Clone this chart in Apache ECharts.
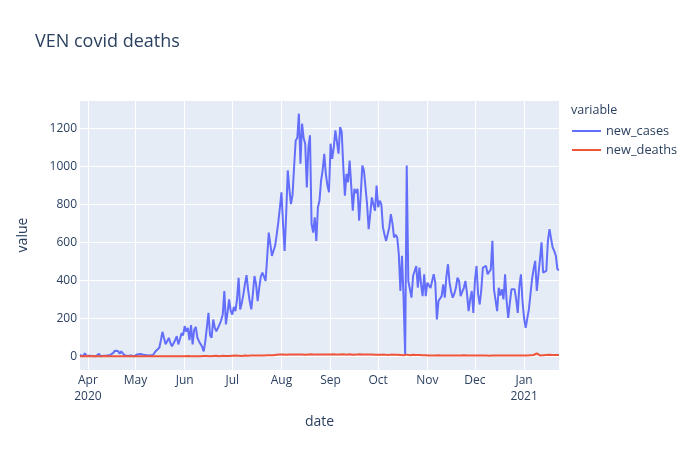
<!DOCTYPE html>
<html>
<head>
<meta charset="utf-8">
<script src="https://cdn.jsdelivr.net/npm/echarts@6/dist/echarts.min.js"></script>
<style>
  html, body { margin: 0; padding: 0; background: #fff; }
  #chart { width: 700px; height: 450px; }
</style>
</head>
<body>
<div id="chart"></div>
<script>
// 일별 데이터 (2020-03-27 ~ 2021-01-23)
const startDate = '2020-03-27';
const monthNames = ['Jan', 'Feb', 'Mar', 'Apr', 'May', 'Jun', 'Jul', 'Aug', 'Sep', 'Oct', 'Nov', 'Dec'];

const casesMar = [7, 12, 0, 16, 4];
const casesApr = [8, 3, 10, 2, 11, 0, 5, 14, 0, 9, 3, 6, 4, 13, 7, 5, 18, 30, 22, 28, 14, 26, 19, 6, 10, 2, 8, 4, 3, 0];
const casesMay = [0, 10, 5, 12, 3, 8, 15, 6, 11, 4, 14, 7, 10, 30, 20, 45, 85, 129, 95, 63, 80, 97, 70, 53, 60, 85, 106, 63, 90, 122, 110];
const casesJun = [159, 130, 150, 85, 165, 63, 140, 155, 98, 80, 65, 50, 26, 79, 85, 229, 110, 98, 194, 150, 132, 150, 168, 190, 220, 344, 168, 230, 300, 240];
const casesJul = [220, 260, 238, 300, 414, 247, 280, 326, 380, 428, 350, 290, 247, 330, 423, 380, 291, 360, 420, 441, 420, 397, 520, 652, 661, 529, 520, 582, 640, 705, 780];
const casesAug = [864, 700, 555, 750, 979, 880, 802, 850, 1000, 1137, 1150, 1278, 1014, 1225, 1150, 1120, 890, 1100, 1164, 697, 652, 732, 608, 785, 820, 926, 980, 1067, 960, 900, 864];
const casesSep = [1120, 1040, 1100, 1190, 1130, 1067, 1208, 1182, 1000, 846, 961, 917, 1031, 900, 767, 882, 860, 882, 714, 850, 1005, 980, 970, 800, 670, 750, 837, 800, 767, 899];
const casesOct = [785, 820, 800, 679, 640, 608, 615, 680, 749, 700, 626, 640, 626, 538, 344, 529, 309, 9, 1005, 397, 390, 309, 423, 420, 476, 361, 467, 380, 317, 432, 317];
const casesNov = [388, 390, 360, 397, 432, 388, 194, 291, 300, 317, 379, 309, 420, 485, 388, 340, 309, 330, 361, 414, 397, 317, 340, 361, 397, 330, 238, 300, 344, 229];
const casesDec = [400, 476, 326, 273, 350, 467, 460, 476, 432, 440, 458, 608, 353, 345, 238, 361, 320, 353, 300, 432, 290, 203, 280, 353, 361, 353, 300, 229, 370, 432, 290];
const casesJan = [200, 150, 200, 247, 256, 406, 460, 503, 344, 430, 511, 600, 441, 445, 450, 608, 670, 620, 573, 555, 530, 458, 455];

const deathsMar = [0, 1, 0, 0, 2];
const deathsApr = [0, 1, 0, 2, 0, 1, 1, 0, 0, 1, 0, 2, 0, 1, 0, 0, 1, 0, 1, 0, 0, 1, 0, 0, 1, 0, 0, 0, 1, 0];
const deathsMay = [-5, 1, 0, 1, 0, 0, 1, 0, 0, 1, 1, 0, 0, 1, 0, 1, 0, 0, 1, 0, 1, 1, 0, 0, 1, 0, 1, 1, 0, 1, 2];
const deathsJun = [1, 1, 2, 0, 1, 2, 1, 1, 0, 2, 1, 1, 2, 1, 2, 1, 1, 2, 2, 1, 3, 2, 1, 2, 3, 2, 2, 3, 2, 3];
const deathsJul = [3, 2, 4, 3, 3, 4, 2, 3, 4, 5, 3, 4, 4, 3, 5, 4, 5, 4, 5, 6, 5, 4, 6, 5, 6, 7, 6, 7, 8, 7, 9];
const deathsAug = [8, 9, 7, 8, 10, 9, 8, 9, 10, 9, 8, 10, 11, 9, 10, 8, 9, 10, 9, 11, 10, 9, 8, 10, 9, 10, 11, 9, 10, 9, 11];
const deathsSep = [10, 9, 11, 10, 9, 12, 10, 9, 11, 10, 9, 10, 11, 9, 8, 10, 9, 10, 11, 9, 10, 8, 9, 10, 9, 8, 9, 10, 8, 9];
const deathsOct = [8, 9, 8, 7, 9, 8, 7, 8, 9, 7, 8, 7, 8, 6, 7, 8, 6, 1, 9, 7, 6, 7, 8, 6, 7, 6, 7, 5, 6, 7, 6];
const deathsNov = [6, 5, 6, 5, 6, 4, 5, 6, 5, 4, 6, 5, 5, 4, 6, 5, 4, 5, 6, 4, 5, 5, 4, 6, 5, 4, 5, 4, 5, 4];
const deathsDec = [5, 4, 4, 5, 3, 4, 5, 4, 4, 3, 5, 4, 4, 5, 3, 4, 2, 4, 5, 4, 3, 4, 5, 4, 3, 4, 5, 4, 5, 4, 5];
const deathsJan = [5, 6, 5, 4, 6, 5, 7, 6, 16, 6, 5, 7, 6, 5, 7, 6, 8, 6, 7, 6, 7, 8, 7];

const newCases = [].concat(casesMar, casesApr, casesMay, casesJun, casesJul, casesAug,
  casesSep, casesOct, casesNov, casesDec, casesJan);
const newDeaths = [].concat(deathsMar, deathsApr, deathsMay, deathsJun, deathsJul, deathsAug,
  deathsSep, deathsOct, deathsNov, deathsDec, deathsJan);

// 날짜 카테고리
const dates = [];
const d0 = new Date(startDate + 'T00:00:00Z');
for (let i = 0; i < newCases.length; i++) {
  const d = new Date(d0.getTime() + i * 86400000);
  dates.push(d.toISOString().slice(0, 10));
}

const isMonthStart = (index, value) => value.slice(8) === '01';
let firstLabel = true;

const textColor = '#2a3f5f';
const fontFamily = '"Open Sans", Verdana, Arial, sans-serif';

const chart = echarts.init(document.getElementById('chart'));

const option = {
  animation: false,
  textStyle: { fontFamily: fontFamily },
  title: [
    {
      text: 'VEN covid deaths',
      left: 35,
      top: 33,
      padding: 0,
      textStyle: { color: textColor, fontSize: 18, fontWeight: 'normal', fontFamily: fontFamily },
    },
    {
      text: 'variable',
      left: 571,
      top: 104,
      padding: 0,
      textStyle: { color: textColor, fontSize: 12.5, fontWeight: 'normal', fontFamily: fontFamily },
    },
  ],
  legend: {
    orient: 'vertical',
    left: 572,
    top: 124,
    padding: 0,
    itemWidth: 29,
    itemHeight: 2,
    itemGap: 5,
    icon: 'rect',
    textStyle: { color: textColor, fontSize: 12.8, lineHeight: 14, fontFamily: fontFamily },
    data: ['new_cases', 'new_deaths'],
  },
  grid: {
    left: 80,
    right: 141,
    top: 100,
    bottom: 80,
    show: true,
    backgroundColor: '#E5ECF6',
    borderWidth: 0,
  },
  xAxis: {
    type: 'category',
    data: dates,
    boundaryGap: false,
    name: 'date',
    nameLocation: 'middle',
    nameGap: 45,
    nameTextStyle: { color: textColor, fontSize: 14 },
    axisLine: { show: false },
    axisTick: { show: false },
    splitLine: {
      show: true,
      interval: isMonthStart,
      lineStyle: { color: '#ffffff', width: 1 },
    },
    axisLabel: {
      interval: isMonthStart,
      color: textColor,
      fontSize: 12,
      lineHeight: 16,
      margin: 3,
      formatter: function (value) {
        const y = value.slice(0, 4);
        const m = parseInt(value.slice(5, 7), 10) - 1;
        if (firstLabel || m === 0) {
          firstLabel = false;
          return monthNames[m] + '\n' + y;
        }
        return monthNames[m];
      },
    },
  },
  yAxis: {
    type: 'value',
    min: -72,
    max: 1350,
    splitNumber: 7,
    name: 'value',
    nameLocation: 'middle',
    nameGap: 50,
    nameTextStyle: { color: textColor, fontSize: 14 },
    axisLine: { show: false },
    axisTick: { show: false },
    splitLine: { lineStyle: { color: '#ffffff', width: 1 } },
    axisLabel: {
      color: textColor,
      fontSize: 12,
      margin: 3,
      showMinLabel: false,
      showMaxLabel: false,
      formatter: (v) => String(v),
    },
  },
  series: [
    {
      name: 'new_cases',
      type: 'line',
      data: newCases,
      showSymbol: false,
      color: '#636efa',
      lineStyle: { width: 2, color: '#636efa' },
    },
    {
      name: 'new_deaths',
      type: 'line',
      data: newDeaths,
      showSymbol: false,
      color: '#EF553B',
      lineStyle: { width: 2, color: '#EF553B' },
    },
  ],
};

chart.setOption(option);
</script>
</body>
</html>
